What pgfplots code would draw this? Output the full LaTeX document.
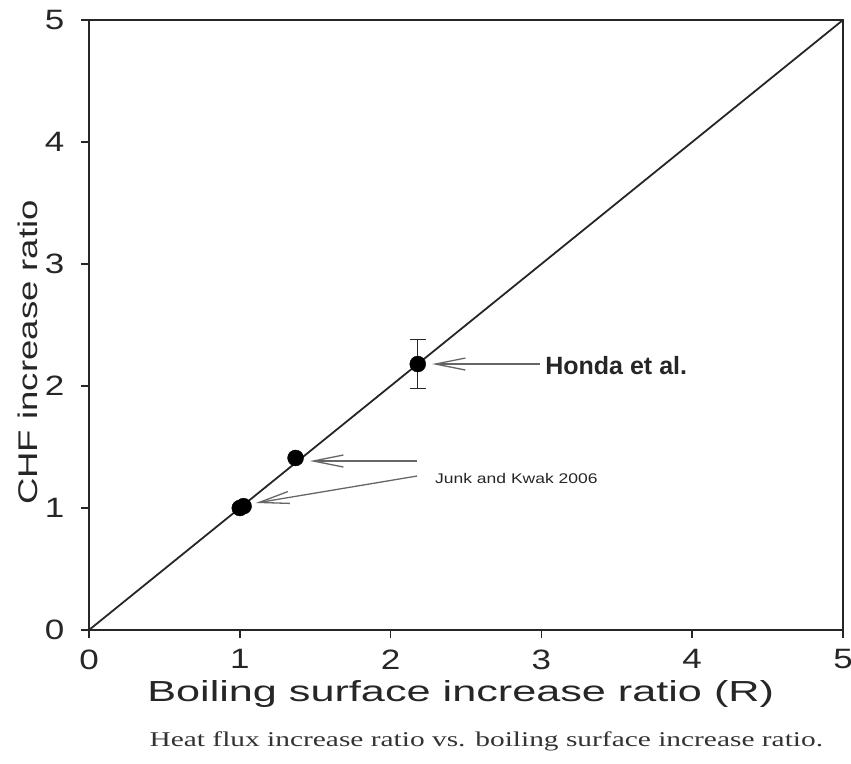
\documentclass[border=0pt]{standalone}
\usepackage{fontspec}
\setmainfont{Liberation Sans}
\newfontfamily\wide[FakeStretch=1.25]{Liberation Sans}
\newfontfamily\ylabfont[FakeStretch=1.355]{Liberation Sans}
\newfontfamily\xlabfont[FakeStretch=1.49]{Liberation Sans}
\newfontfamily\junkfont[FakeStretch=1.25]{Liberation Sans}
\newfontfamily\capfont[FakeStretch=1.4]{Liberation Serif}
\usepackage{pgfplots}
\pgfplotsset{compat=1.18}
\usetikzlibrary{arrows.meta,calc}
\begin{document}
\begin{tikzpicture}
\begin{axis}[
  scale only axis, width=754pt, height=610pt,
  xmin=0, xmax=5, ymin=0, ymax=5,
  xtick={0,1,2,3,4,5}, ytick={0,1,2,3,4,5},
  tick pos=left, tick align=outside,
  major tick length=8pt,
  axis line style={line width=1.8pt, black!85},
  every tick/.style={line width=1.6pt, black!85},
  /pgf/number format/assume math mode=true,
  ticklabel style={font=\fontsize{28}{30}\selectfont\wide, text=black!85},
  xticklabel style={yshift=-8pt},
  yticklabel style={xshift=-13pt},
  xlabel={Boiling surface increase ratio (R)},
  ylabel={CHF increase ratio},
  xlabel style={font=\fontsize{29}{32}\selectfont\xlabfont, text=black!85, at={(axis description cs:0.493,-0.1055)}, anchor=center},
  ylabel style={font=\fontsize{27}{30}\selectfont\ylabfont, text=black!85, at={(axis description cs:-0.081,0.455)}, anchor=center},
  clip=false,
]
\addplot[line width=1.8pt, black!85] coordinates {(0,0) (5,5)};
\addplot[only marks, mark=*, mark size=8pt, black] coordinates {(1.0,1.0) (1.025,1.015) (1.37,1.41)};
\addplot[only marks, mark=*, mark size=8pt, black,
  error bars/.cd, y dir=both, y explicit,
  error bar style={line width=1.5pt, black!85},
  error mark options={rotate=90, mark size=8pt, line width=1.5pt, black!85}]
  coordinates {(2.18,2.18) +- (0,0.2)};
\draw[black!60, line width=1.3pt, -{Straight Barb[length=30pt,width=12pt]}] (axis cs:2.99,2.18) -- (axis cs:2.275,2.18);
\draw[black!60, line width=1.3pt, -{Straight Barb[length=30pt,width=12pt]}] (axis cs:2.175,1.385) -- (axis cs:1.466,1.385);
\draw[black!60, line width=1.3pt, -{Straight Barb[length=30pt,width=12pt]}] (axis cs:2.175,1.262) -- (axis cs:1.107,1.041);
\node[anchor=west, inner sep=0pt, font=\fontsize{25}{28}\selectfont\bfseries, text=black!85] at (axis cs:3.025,2.164) {Honda et al.};
\node[anchor=west, inner sep=0pt, font=\fontsize{14}{16}\selectfont\junkfont, text=black!85] at (axis cs:2.294,1.238) {Junk and Kwak 2006};
\node[font=\fontsize{21}{24}\selectfont\capfont, text=black!80] at (axis description cs:0.527,-0.182) {Heat flux increase ratio vs. boiling surface increase ratio.};
\end{axis}
\pgfresetboundingbox
\path ($(current axis.south west)+(-89pt,-134pt)$) rectangle ($(current axis.north east)+(8pt,20pt)$);
\end{tikzpicture}
\end{document}
